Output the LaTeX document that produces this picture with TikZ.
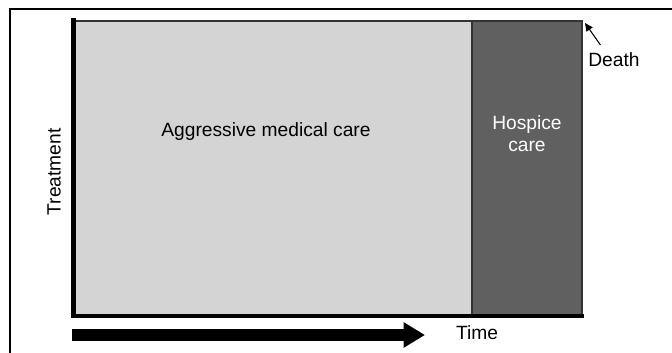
\documentclass[tikz,border=0pt]{standalone}
\usepackage{fontspec}
\setmainfont{Liberation Sans}
\usetikzlibrary{positioning, calc, arrows.meta}

\definecolor{aggrgray}{HTML}{D4D4D4}
\definecolor{hospgray}{HTML}{606060}

\begin{document}
\begin{tikzpicture}[x=0.75pt, y=-0.75pt, font=\fontsize{14.4}{16.5}\selectfont,
        boxline/.style={draw=black!80, line width=0.9pt},
        axis/.style={line width=3.3pt, line cap=rect},
        label/.style={inner sep=2pt}]
        \useasboundingbox (0,0) rectangle (672,353);

        % frame round the figure
        \draw[line width=1.3pt] (10,353) -- (10,9) -- (672,9);

        % the two phases of care
        \fill[aggrgray] (75,21) rectangle (472,315);
        \fill[hospgray] (472,21) rectangle (582,315);
        \draw[boxline] (75,21) -- (582,21) -- (582,315);
        \draw[boxline] (472,21) -- (472,315);

        % axes
        \draw[axis] (73.5,20) -- (73.5,316) -- (582,316);

        \node[label] (aggr) at (266,132) {Aggressive medical care};
        \node[label, align=center, text=white] (hosp) at (527,134) {Hospice\\care};
        \node[label, rotate=90] (treat) at (54,172) {Treatment};

        % time arrow
        \coordinate (t0) at (72,335);
        \coordinate (t1) at (425,335);
        \draw[line width=9pt, -{Triangle[length=16pt, width=18pt]}] (t0) -- (t1);
        \node[label] (time) at (477,333) {Time};

        % death marker
        \node[label] (death) at (614,60) {Death};
        \coordinate (corner) at (585,23);
        \draw[line width=0.8pt, -{Triangle[length=6pt, width=5.5pt]}] ($(death.north west)+(15,-5)$) -- (corner);
\end{tikzpicture}
\end{document}
